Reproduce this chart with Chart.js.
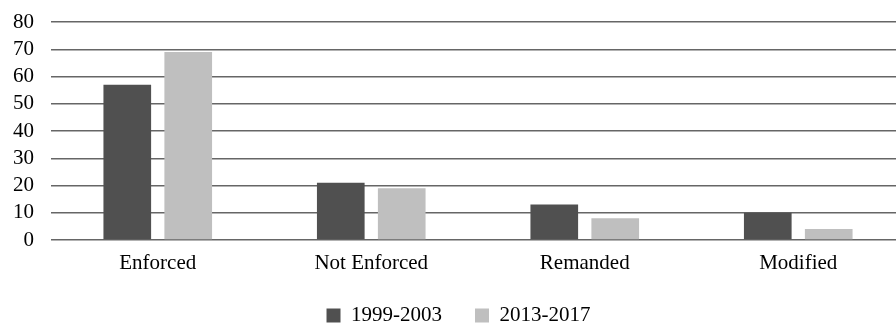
<!DOCTYPE html>
<html>
<head>
<meta charset="utf-8">
<script src="https://cdn.jsdelivr.net/npm/chart.js@4/dist/chart.umd.min.js"></script>
<style>
  html, body { margin: 0; padding: 0; background: #fff; overflow: hidden; }
</style>
</head>
<body>
<canvas id="barChart" width="910" height="323"></canvas>
<script>
// chart data
const categories = ['Enforced', 'Not Enforced', 'Remanded', 'Modified'];
const seriesNames = ['1999-2003', '2013-2017'];
const values1999 = [57, 21, 13, 10];
const values2013 = [69, 19, 8, 4];
const yTicks = [0, 10, 20, 30, 40, 50, 60, 70, 80];

const serif = { family: "'Liberation Serif', 'Times New Roman', serif", size: 21 };

const ctx = document.getElementById('barChart').getContext('2d');
new Chart(ctx, {
  type: 'bar',
  data: {
    labels: categories,
    datasets: [
      { label: seriesNames[0], data: values1999, backgroundColor: '#505050' },
      { label: seriesNames[1], data: values2013, backgroundColor: '#bfbfbf' }
    ]
  },
  options: {
    responsive: false,
    animation: false,
    categoryPercentage: 0.571,
    barPercentage: 0.782,
    layout: { padding: { left: 12, right: 5, top: 0, bottom: -13 } },
    scales: {
      x: {
        grid: { display: false, drawTicks: false },
        border: { display: false },
        ticks: { font: serif, color: '#000', padding: 11, maxRotation: 0 },
        afterFit: axis => { axis.height = 32; }
      },
      y: {
        min: yTicks[0],
        max: yTicks[yTicks.length - 1],
        afterBuildTicks: axis => { axis.ticks = yTicks.map(v => ({ value: v })); },
        grid: { color: '#666', lineWidth: 1.4, drawTicks: false },
        border: { display: false },
        ticks: { font: serif, color: '#000', padding: 17, autoSkip: false },
        afterFit: axis => {
          axis.width = 39;
          axis.paddingTop = 22;
          axis.paddingBottom = 0;
        }
      }
    },
    plugins: {
      legend: {
        position: 'bottom',
        labels: { font: serif, color: '#000', boxWidth: 14, boxHeight: 14, padding: 33 }
      },
      tooltip: { enabled: false }
    }
  }
});
</script>
</body>
</html>
